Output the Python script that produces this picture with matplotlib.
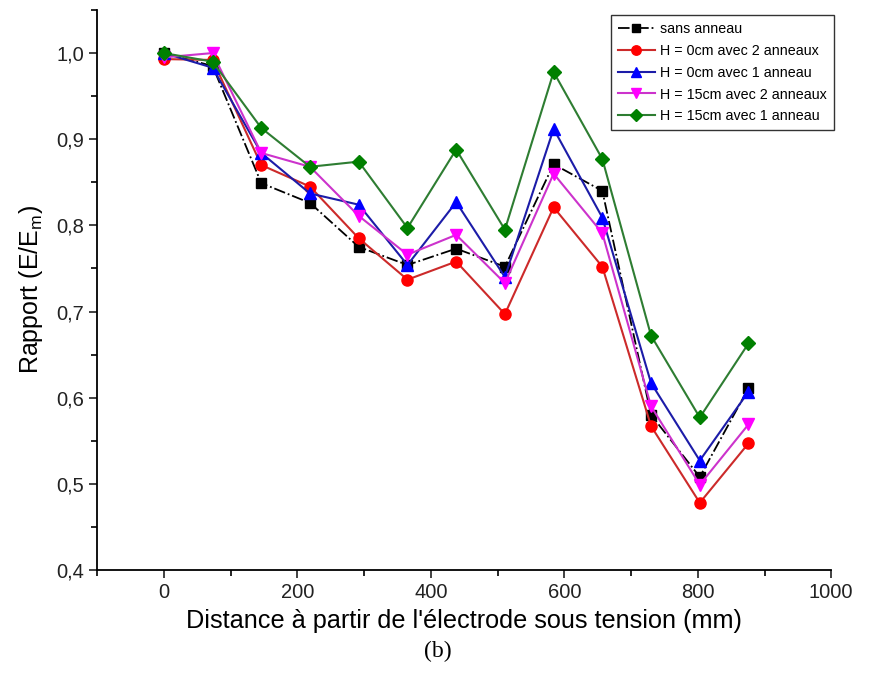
import matplotlib
matplotlib.use("Agg")
import matplotlib.pyplot as plt
from matplotlib.ticker import MultipleLocator, FuncFormatter

plt.rcParams["font.family"] = ["Liberation Sans", "DejaVu Sans"]

distance = [0, 73, 146, 219, 292, 365, 438, 511, 584, 657, 730, 803, 876]

sans_anneau = [1.000, 0.985, 0.849, 0.826, 0.775, 0.754, 0.773, 0.752, 0.871, 0.840, 0.580, 0.508, 0.611]
h0_2anneaux = [0.993, 0.992, 0.870, 0.845, 0.785, 0.737, 0.758, 0.697, 0.821, 0.752, 0.567, 0.478, 0.547]
h0_1anneau = [1.000, 0.983, 0.884, 0.837, 0.824, 0.754, 0.827, 0.740, 0.912, 0.809, 0.617, 0.527, 0.607]
h15_2anneaux = [0.995, 1.000, 0.884, 0.868, 0.811, 0.766, 0.789, 0.733, 0.860, 0.791, 0.590, 0.499, 0.569]
h15_1anneau = [1.000, 0.990, 0.913, 0.868, 0.874, 0.797, 0.888, 0.795, 0.978, 0.877, 0.672, 0.577, 0.663]

labels = [
    "sans anneau",
    "H = 0cm avec 2 anneaux",
    "H = 0cm avec 1 anneau",
    "H = 15cm avec 2 anneaux",
    "H = 15cm avec 1 anneau",
]

fig = plt.figure(figsize=(8.75, 6.84), dpi=100)
ax = fig.add_axes([0.111, 0.1667, 0.839, 0.8187])

ax.plot(distance, sans_anneau, color="black", linestyle="-.", linewidth=1.3,
        marker="s", markersize=7, markerfacecolor="black", label=labels[0])
ax.plot(distance, h0_2anneaux, color="#cc2a2a", linewidth=1.5,
        marker="o", markersize=8, markerfacecolor="#ff0000", markeredgecolor="#ff0000", label=labels[1])
ax.plot(distance, h0_1anneau, color="#1c1ca8", linewidth=1.5,
        marker="^", markersize=8, markerfacecolor="#0000ff", markeredgecolor="#0000ff", label=labels[2])
ax.plot(distance, h15_2anneaux, color="#cc33cc", linewidth=1.5,
        marker="v", markersize=8, markerfacecolor="#ff00ff", markeredgecolor="#ff00ff", label=labels[3])
ax.plot(distance, h15_1anneau, color="#2e7d32", linewidth=1.5,
        marker="D", markersize=7, markerfacecolor="#008000", markeredgecolor="#008000", label=labels[4])

ax.set_xlim(-100, 1000)
ax.set_ylim(0.4, 1.05)

ax.spines["top"].set_visible(False)
ax.spines["right"].set_visible(False)
ax.xaxis.set_major_locator(MultipleLocator(200))
ax.xaxis.set_minor_locator(MultipleLocator(100))
ax.yaxis.set_major_locator(MultipleLocator(0.1))
ax.yaxis.set_minor_locator(MultipleLocator(0.05))
ax.yaxis.set_major_formatter(FuncFormatter(lambda v, p: f"{v:.1f}".replace(".", ",")))
ax.tick_params(which="major", direction="out", length=6, width=1.2, labelsize=14.5, colors="#222222")
ax.tick_params(which="minor", direction="out", length=4, width=1.2)
for s in ("left", "bottom"):
    ax.spines[s].set_linewidth(1.3)

ax.set_xlabel("Distance à partir de l'électrode sous tension (mm)", fontsize=18.2, labelpad=5)
ax.set_ylabel("Rapport (E/E$_\\mathregular{m}$)", fontsize=18, labelpad=8)

leg = ax.legend(loc="upper right", bbox_to_anchor=(1.013, 1.003), fontsize=10.3, fancybox=False,
                edgecolor="#333333", framealpha=1, handlelength=2.6, borderpad=0.45,
                labelspacing=0.55, handletextpad=0.4, markerscale=0.85)
leg.get_frame().set_linewidth(1.0)

fig.text(0.5, 0.048, "(b)", ha="center", va="center", fontsize=17, family="Liberation Serif")

fig.savefig("out.png", dpi=100)
